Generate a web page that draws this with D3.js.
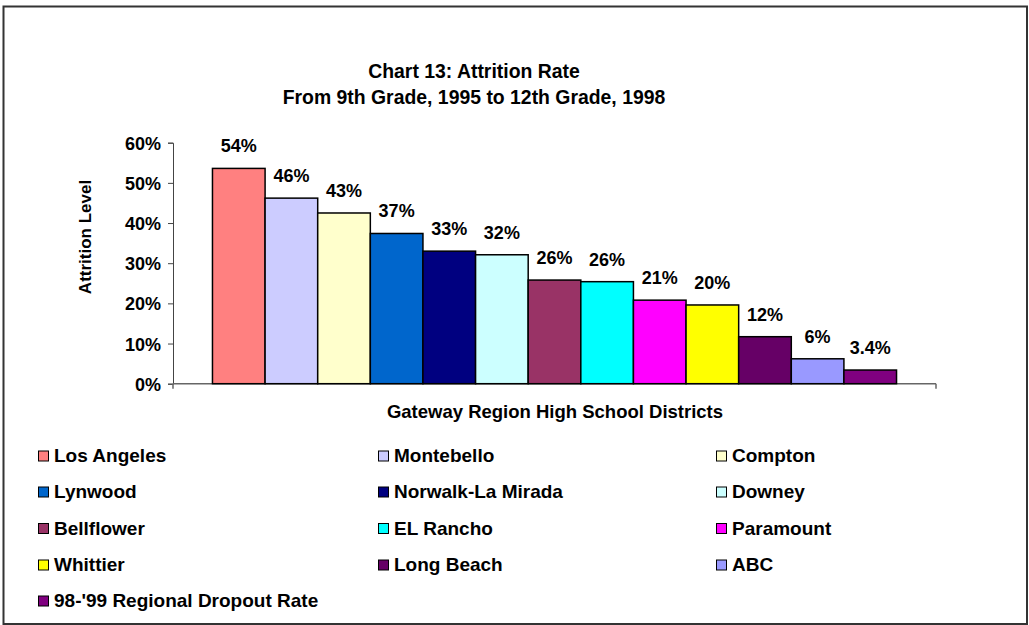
<!DOCTYPE html>
<html>
<head>
<meta charset="utf-8">
<script src="https://cdn.jsdelivr.net/npm/d3@7"></script>
<style>
  body { margin: 0; background: #fff; }
  svg text { font-family: "Liberation Sans", Arial, sans-serif; font-weight: bold; fill: #000; }
</style>
</head>
<body>
<div id="chart"></div>
<script>
// chart data
var districts = ["Los Angeles", "Montebello", "Compton", "Lynwood", "Norwalk-La Mirada", "Downey",
                 "Bellflower", "EL Rancho", "Paramount", "Whittier", "Long Beach", "ABC",
                 "98-'99 Regional Dropout Rate"];
var rates = [0.536, 0.462, 0.425, 0.374, 0.330, 0.321, 0.258, 0.254, 0.208, 0.196, 0.117, 0.062, 0.034];
var rateLabels = ["54%", "46%", "43%", "37%", "33%", "32%", "26%", "26%", "21%", "20%", "12%", "6%", "3.4%"];
var colors = ["#FF8080", "#CCCCFF", "#FFFFCC", "#0066CC", "#000080", "#CCFFFF",
              "#993366", "#00FFFF", "#FF00FF", "#FFFF00", "#660066", "#9999FF", "#800080"];
var yTicks = [0, 0.1, 0.2, 0.3, 0.4, 0.5, 0.6];

var W = 1029, H = 625;
var svg = d3.select("#chart").append("svg")
    .attr("width", W)
    .attr("height", H);

// outer frame
svg.append("rect")
    .attr("x", 3.5).attr("y", 6.5)
    .attr("width", 1023.5).attr("height", 617.5)
    .attr("fill", "#fff")
    .attr("stroke", "#333")
    .attr("stroke-width", 2);

// title
svg.append("text")
    .attr("x", 474).attr("y", 78)
    .attr("text-anchor", "middle")
    .style("font-size", "19.4px")
    .text("Chart 13: Attrition Rate");
svg.append("text")
    .attr("x", 474).attr("y", 104)
    .attr("text-anchor", "middle")
    .style("font-size", "19.4px")
    .text("From 9th Grade, 1995 to 12th Grade, 1998");

// scales
var x = d3.scaleBand()
    .domain(districts)
    .range([173, 936])
    .paddingInner(0)
    .paddingOuter(0.75);

var y = d3.scaleLinear()
    .domain([0, 0.6])
    .range([383.7, 142.7]);

// y axis
var yAxis = svg.append("g")
    .attr("transform", "translate(173,0)")
    .call(d3.axisLeft(y).tickValues(yTicks).tickFormat(d3.format(".0%")).tickSize(5).tickPadding(7));
yAxis.selectAll("text").style("font-size", "18px").attr("dy", "0.36em");
yAxis.selectAll("line, path").attr("stroke", "#444");

// x axis: single category line with end ticks
var xAxisG = svg.append("g");
xAxisG.append("line")
    .attr("x1", 173).attr("x2", 936)
    .attr("y1", y(0)).attr("y2", y(0))
    .attr("stroke", "#666").attr("stroke-width", 1.5);
xAxisG.selectAll("line.endtick")
    .data([173, 936])
  .enter().append("line")
    .attr("class", "endtick")
    .attr("x1", function(d) { return d; })
    .attr("x2", function(d) { return d; })
    .attr("y1", y(0)).attr("y2", y(0) + 5)
    .attr("stroke", "#666").attr("stroke-width", 1.5);

// bars
svg.append("g").selectAll("rect")
    .data(rates)
  .enter().append("rect")
    .attr("x", function(d, i) { return x(districts[i]); })
    .attr("y", function(d) { return y(d); })
    .attr("width", x.bandwidth())
    .attr("height", function(d) { return y(0) - y(d); })
    .attr("fill", function(d, i) { return colors[i]; })
    .attr("stroke", "#000")
    .attr("stroke-width", 1.5);

// data labels
svg.append("g").selectAll("text")
    .data(rates)
  .enter().append("text")
    .attr("x", function(d, i) { return x(districts[i]) + x.bandwidth() / 2; })
    .attr("y", function(d) { return y(d) - 16; })
    .attr("text-anchor", "middle")
    .style("font-size", "18px")
    .text(function(d, i) { return rateLabels[i]; });

// axis titles
svg.append("text")
    .attr("transform", "translate(91,237) rotate(-90)")
    .attr("text-anchor", "middle")
    .style("font-size", "17px")
    .text("Attrition Level");
svg.append("text")
    .attr("x", 555).attr("y", 418)
    .attr("text-anchor", "middle")
    .style("font-size", "18.5px")
    .text("Gateway Region High School Districts");

// legend, 3 columns
var colX = [38, 378, 716];
var rowY = [456, 492, 528.5, 565, 601];
var legend = svg.append("g").selectAll("g")
    .data(districts)
  .enter().append("g")
    .attr("transform", function(d, i) {
        return "translate(" + colX[i % 3] + "," + rowY[Math.floor(i / 3)] + ")";
    });
legend.append("rect")
    .attr("x", 0.5).attr("y", -5)
    .attr("width", 10).attr("height", 10)
    .attr("fill", function(d, i) { return colors[i]; })
    .attr("stroke", "#000")
    .attr("stroke-width", 1);
legend.append("text")
    .attr("x", 16).attr("y", 6)
    .style("font-size", "19px")
    .text(function(d) { return d; });
</script>
</body>
</html>
